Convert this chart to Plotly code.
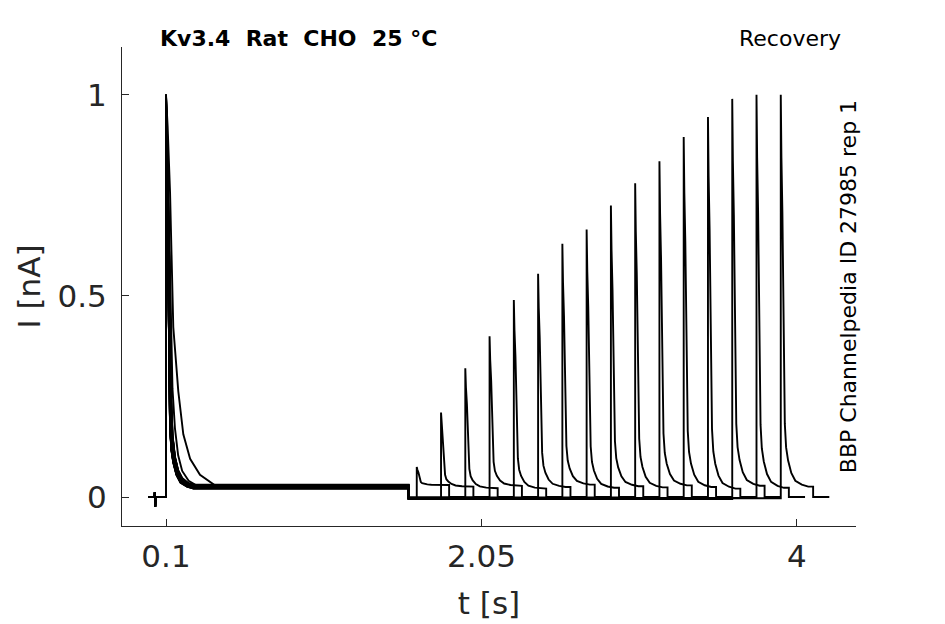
import plotly.graph_objects as go

# protocol timing [s]
COND_START = 0.1
COND_END = 1.6
TEST_LEN = 0.2
TAIL_LEN = 0.1

# one entry per sweep
gaps = [0.05, 0.2, 0.35, 0.5, 0.65, 0.8, 0.95, 1.1, 1.25, 1.4, 1.55, 1.7, 1.85, 2.0, 2.15, 2.3]
test_peak = [0.075, 0.21, 0.32, 0.40, 0.49, 0.555, 0.63, 0.665, 0.725, 0.78, 0.835, 0.895, 0.945, 0.99, 1.0, 1.0]
cond_peak = [1.0, 1.0, 0.99, 1.0, 0.98, 1.0, 0.99, 1.0, 1.0, 0.99, 1.0, 0.98, 1.0, 0.99, 1.0, 1.0]
plateau = [0.030, 0.026, 0.022, 0.028, 0.021, 0.025, 0.031, 0.023, 0.027, 0.024, 0.029, 0.025, 0.021, 0.028, 0.023, 0.026]
cond_shape = ["slow", "mid", "fast", "fast2", "fast", "fast2", "fast", "fast", "fast2", "fast",
              "fast", "fast2", "fast", "fast", "fast2", "fast"]
base_after = [-0.004, -0.002, -0.005, -0.001, -0.003, -0.004, -0.002, -0.005, -0.003, -0.001,
              -0.004, -0.002, -0.003, -0.005, -0.002, -0.003]

# baseline before the conditioning step (small artefact at ~30 ms)
pre_t = [-0.01, 0.030, 0.031, 0.033, 0.035, 0.1]
pre_i = [0.0, 0.0, 0.012, -0.024, 0.0, 0.0]

# decay profiles: time after peak, fraction of peak above plateau
decay = {
    "fast": ([0, 0.004, 0.010, 0.015, 0.020, 0.025, 0.033, 0.045, 0.065, 0.09, 0.13, 0.17],
             [1.0, 0.84, 0.70, 0.56, 0.33, 0.16, 0.10, 0.067, 0.035, 0.015, 0.005, 0.0]),
    "fast2": ([0, 0.006, 0.014, 0.020, 0.026, 0.032, 0.040, 0.055, 0.075, 0.10, 0.14, 0.18],
              [1.0, 0.86, 0.72, 0.58, 0.38, 0.22, 0.13, 0.075, 0.04, 0.02, 0.006, 0.0]),
    "mid": ([0, 0.010, 0.020, 0.030, 0.040, 0.055, 0.075, 0.10, 0.14, 0.20],
            [1.0, 0.85, 0.65, 0.42, 0.25, 0.15, 0.08, 0.04, 0.015, 0.0]),
    "slow": ([0, 0.010, 0.025, 0.045, 0.076, 0.107, 0.149, 0.21, 0.30],
             [1.0, 0.92, 0.75, 0.405, 0.24, 0.13, 0.067, 0.026, 0.0]),
}

TEXT = "#262626"
FONT = "DejaVu Sans"


def pulse(t0, peak, plat, shape):
    dts, fr = decay[shape]
    ts = [t0 + d for d in dts]
    vals = [plat + (peak - plat) * f for f in fr]
    return ts, vals


fig = go.Figure()

for k in range(len(gaps)):
    t = list(pre_t)
    y = list(pre_i)
    ts, vs = pulse(COND_START, cond_peak[k], plateau[k], cond_shape[k])
    t += ts + [COND_END, COND_END]
    y += vs + [plateau[k], base_after[k]]
    t_test = COND_END + gaps[k]
    t += [t_test]
    y += [base_after[k]]
    ts, vs = pulse(t_test, test_peak[k], plateau[k], "fast")
    t_end = t_test + TEST_LEN
    t += ts + [t_end, t_end, t_end + TAIL_LEN]
    y += vs + [plateau[k], 0.0, 0.0]
    fig.add_trace(
        go.Scatter(
            x=t,
            y=y,
            mode="lines",
            line=dict(color="black", width=1.9),
            showlegend=False,
            hoverinfo="skip",
        )
    )

axis_style = dict(
    ticks="inside",
    ticklen=7,
    tickwidth=1,
    tickcolor=TEXT,
    showline=True,
    linecolor=TEXT,
    linewidth=1,
    showgrid=False,
    zeroline=False,
    tickfont=dict(family=FONT, size=31, color=TEXT),
)

fig.update_xaxes(
    range=[-0.172, 4.365],
    tickvals=[0.1, 2.05, 4],
    ticktext=["0.1", "2.05", "4"],
    title=dict(text="t [s]", font=dict(family=FONT, size=31, color=TEXT), standoff=19),
    ticklabelstandoff=3,
    **axis_style,
)
fig.update_yaxes(
    range=[-0.072, 1.119],
    tickvals=[0, 0.5, 1],
    ticktext=["0", "0.5", "1"],
    title=dict(text="I [nA]", font=dict(family=FONT, size=31, color=TEXT), standoff=7),
    ticklabelstandoff=8,
    **axis_style,
)

fig.add_annotation(
    text="<b>Kv3.4\u00a0\u00a0Rat\u00a0\u00a0CHO\u00a0\u00a025\u00a0°C</b>",
    xref="paper", yref="paper", x=0.049, y=1.017,
    xanchor="left", yanchor="middle", showarrow=False,
    font=dict(family=FONT, size=22, color="black"),
)
fig.add_annotation(
    text="Recovery",
    xref="paper", yref="paper", x=0.982, y=1.017,
    xanchor="right", yanchor="middle", showarrow=False,
    font=dict(family=FONT, size=22, color="black"),
)
fig.add_annotation(
    text="BBP Channelpedia ID 27985 rep 1",
    xref="paper", yref="paper", x=0.990, y=0.5,
    xanchor="center", yanchor="middle", textangle=-90, showarrow=False,
    font=dict(family=FONT, size=22, color="black"),
)

# the page adds an 8 px body margin, so the plot box is shifted back by that much
fig.update_layout(
    width=945,
    height=624,
    margin=dict(l=114, r=97, t=39, b=106),
    paper_bgcolor="white",
    plot_bgcolor="white",
)

fig.write_html("out.html")
